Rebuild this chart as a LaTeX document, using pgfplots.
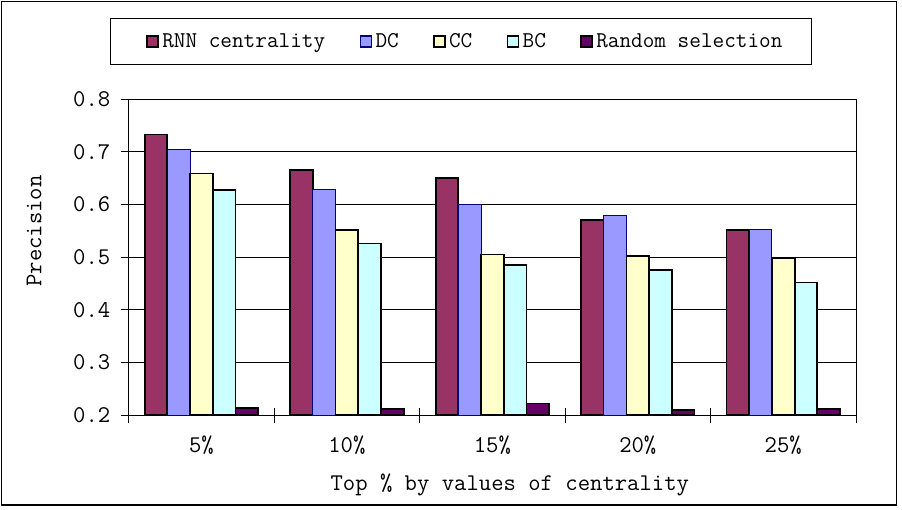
\documentclass[border=0pt]{standalone}
\usepackage{fontspec}
\usepackage{pgfplots}
\pgfplotsset{compat=1.18}
\definecolor{rnn}{HTML}{993366}
\definecolor{dcc}{HTML}{9999FF}
\definecolor{ccc}{HTML}{FFFFCC}
\definecolor{bcc}{HTML}{CCFFFF}
\definecolor{rnd}{HTML}{660066}
\definecolor{navyb}{HTML}{000080}
\newcommand{\axfont}{\fontsize{24}{26}\selectfont\ttfamily}
\newcommand{\lgfont}{\fontsize{22.6}{24}\selectfont\ttfamily}
\pgfplotsset{
  sqimg/.style={legend image code/.code={\draw[##1,line width=1.3pt] (0pt,-5.5pt) rectangle (11pt,5.5pt);}},
  firstimg/.style={legend image code/.code={\path (-10pt,0pt); \draw[##1,line width=1.3pt] (0pt,-5.5pt) rectangle (11pt,5.5pt);}},
}
\begin{document}
\begin{tikzpicture}
\fill[white] (0pt,0pt) rectangle (902pt,509pt);
\draw[line width=1.2pt] (1.5pt,4pt) rectangle (896.5pt,507.5pt);
\begin{axis}[
  at={(128.7pt,94pt)}, anchor=south west,
  scale only axis, width=727.3pt, height=315.7pt,
  ybar=0pt, bar width=22.7pt,
  ymin=0.2, ymax=0.8,
  ytick={0.2,0.3,0.4,0.5,0.6,0.7,0.8},
  yticklabels={0.2,0.3,0.4,0.5,0.6,0.7,0.8},
  xmin=-0.5, xmax=4.5,
  xtick={-0.5,0.5,1.5,2.5,3.5,4.5},
  x tick label as interval,
  xticklabels={5\%,10\%,15\%,20\%,25\%},
  xtick pos=bottom, ytick pos=left,
  xtick align=center, ytick align=outside,
  xtick style={/pgfplots/major tick length=15pt},
  ytick style={/pgfplots/major tick length=7.5pt},
  tick style={black, line width=1pt},
  ymajorgrids, grid style={black, line width=1pt},
  axis line style={black, line width=1pt},
  tick label style={font=\axfont},
  yticklabel style={inner xsep=0pt, xshift=-14pt},
  xticklabel style={inner ysep=0pt, yshift=-19pt},
  xlabel={Top \% by values of centrality},
  ylabel={Precision},
  label style={font=\axfont},
  xlabel style={at={(axis description cs:0.524,-0.222)}, anchor=center},
  ylabel style={at={(axis description cs:-0.1300,0.5828)}, anchor=center},
  legend columns=5,
  legend style={at={(axis description cs:-0.0261,1.2566)}, anchor=north west,
    draw=black, line width=1pt, font=\lgfont,
    inner xsep=26pt, inner ysep=15pt, column sep=0pt,
    nodes={inner xsep=3.5pt, inner ysep=0pt}},
  /tikz/every even column/.append style={column sep=31pt},
  sqimg,
]
\addplot[fill=rnn, draw=black, line width=1.8pt, firstimg]
  coordinates {(0,0.733) (1,0.666) (2,0.651) (3,0.570) (4,0.551)};
\addplot[fill=dcc, draw=navyb, line width=1pt]
  coordinates {(0,0.705) (1,0.629) (2,0.600) (3,0.580) (4,0.553)};
\addplot[fill=ccc, draw=black, line width=1.8pt]
  coordinates {(0,0.659) (1,0.551) (2,0.505) (3,0.502) (4,0.499)};
\addplot[fill=bcc, draw=black, line width=1.8pt]
  coordinates {(0,0.627) (1,0.526) (2,0.485) (3,0.475) (4,0.452)};
\addplot[fill=rnd, draw=black, line width=1.8pt]
  coordinates {(0,0.214) (1,0.212) (2,0.222) (3,0.210) (4,0.212)};
\legend{RNN centrality,DC,CC,BC,Random selection}
\end{axis}
\pgfresetboundingbox
\useasboundingbox (0pt,0pt) rectangle (902pt,509pt);
\end{tikzpicture}
\end{document}
